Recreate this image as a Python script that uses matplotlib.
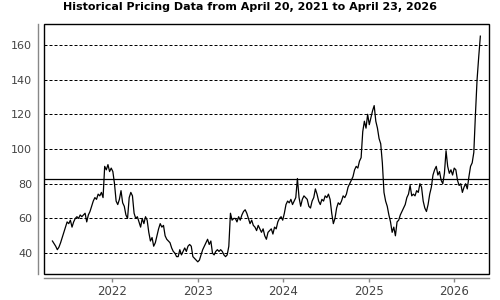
import matplotlib
matplotlib.use("Agg")
import matplotlib.pyplot as plt
import matplotlib.dates as mdates
from matplotlib.patches import Rectangle
import pandas as pd

title = "Historical Pricing Data from April 20, 2021 to April 23, 2026"
start_date = "2021-04-20"
end_date = "2026-04-23"

# Approximate weekly closing prices
prices_2021 = [47, 45.5,
               44, 42, 43.5, 46,
               49, 52, 55, 58, 57,
               59, 55, 58, 60,
               61, 60, 62, 61,
               62, 63, 58, 62,
               64, 67, 70, 72, 71,
               74, 73, 75, 72,
               90, 88, 91, 87, 89]
prices_2022 = [87, 80, 70, 68,
               71, 76, 69, 67,
               62, 60, 72, 75, 73,
               63, 60, 61, 58,
               55, 60, 57, 61, 59,
               52, 47, 49, 44,
               46, 50, 54, 57, 55,
               56, 50, 48, 47,
               46, 43, 41, 40, 38,
               38, 42, 39, 41,
               43, 41, 44, 45,
               44, 38, 37, 36, 35]
prices_2023 = [36, 39, 42, 44,
               46, 48, 45, 47,
               40, 39, 41, 42, 41,
               42, 41, 39, 38,
               39, 44, 63, 59, 60,
               60, 58, 61, 59,
               62, 64, 65, 63,
               60, 57, 59, 56,
               55, 53, 56, 54, 52,
               54, 50, 48, 52,
               53, 54, 51, 55,
               54, 58, 60, 61, 59]
prices_2024 = [63, 68, 70, 69, 71,
               68, 70, 72, 83,
               72, 67, 71, 73, 72,
               71, 67, 66, 70,
               72, 77, 74, 70,
               68, 71, 70, 73, 72,
               74, 71, 63, 57,
               60, 66, 69, 68,
               70, 73, 72, 74,
               78, 80, 82, 84, 88,
               90, 89, 93, 95,
               110, 116, 112, 120, 114]
prices_2025 = [118, 122, 125, 116,
               112, 106, 103, 92,
               75, 70, 67, 62, 58,
               52, 55, 50, 58,
               59, 62, 64, 66,
               68, 72, 74, 79, 73,
               74, 73, 76, 75,
               80, 78, 70, 66,
               64, 68, 74, 78, 85,
               88, 90, 85, 87,
               82, 80, 86, 99,
               90, 86, 88, 85, 89]
prices_2026 = [88, 82, 79, 80,
               75, 78, 80, 77,
               84, 90, 92, 98,
               120, 140, 153, 165]

reference_level = 82.5
y_ticks = [40, 60, 80, 100, 120, 140, 160]
x_tick_years = [2022, 2023, 2024, 2025, 2026]

prices = prices_2021 + prices_2022 + prices_2023 + prices_2024 + prices_2025 + prices_2026
dates = pd.date_range(start_date, end_date, periods=len(prices))

fig = plt.figure(figsize=(5, 3), dpi=100)
ax = fig.add_axes([0.088, 0.0867, 0.89, 0.8333])

ax.plot(dates, prices, color="black", lw=0.9, zorder=3)
ax.axhline(reference_level, color="black", lw=0.9, zorder=2)

ax.set_xlim(pd.Timestamp("2021-03-15"), pd.Timestamp("2026-05-30"))
ax.set_ylim(28, 172)

ax.set_yticks(y_ticks)
ax.set_xticks([pd.Timestamp(f"{y}-01-01") for y in x_tick_years])
ax.xaxis.set_major_formatter(mdates.DateFormatter("%Y"))

ax.yaxis.grid(True, color="black", lw=0.72, linestyle=(0, (3, 2)))
ax.set_axisbelow(True)

for s in ["top", "right"]:
    ax.spines[s].set_visible(False)
ax.spines["left"].set_position(("outward", 4))
ax.spines["bottom"].set_position(("outward", 3))
for s in ["left", "bottom"]:
    ax.spines[s].set_color("#888888")
    ax.spines[s].set_linewidth(1.0)

ax.add_patch(Rectangle((0, 0), 1, 1, transform=ax.transAxes, fill=False,
                       edgecolor="black", lw=1.0, zorder=4, clip_on=False))

ax.tick_params(axis="y", length=0, pad=4.5, labelsize=8, labelcolor="#444444")
ax.tick_params(axis="x", length=3, width=1, color="#888888", pad=2,
               labelsize=8.5, labelcolor="#444444")

fig.text(0.5, 0.978, title, ha="center", va="center", fontsize=8,
         fontweight="bold", color="black")

fig.savefig("out.png", dpi=100)
